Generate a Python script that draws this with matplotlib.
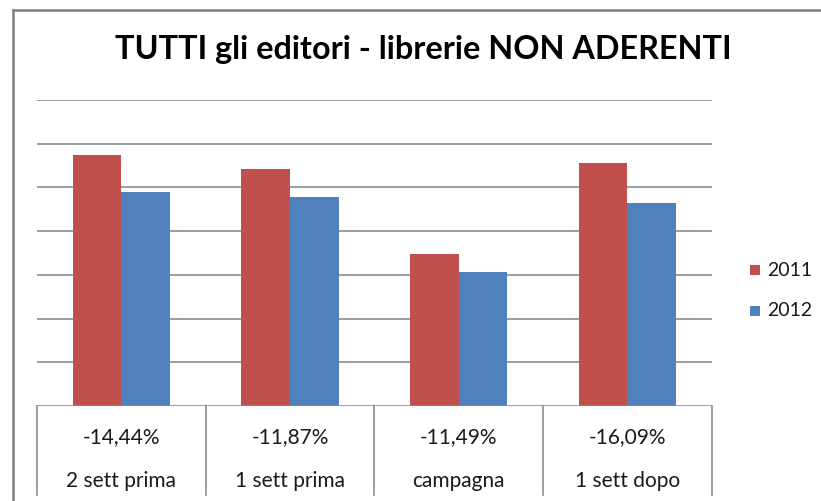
import matplotlib
matplotlib.use("Agg")
import matplotlib.pyplot as plt
from matplotlib.lines import Line2D
from matplotlib.patches import Rectangle
import numpy as np

plt.rcParams['font.family'] = ['Lato', 'DejaVu Sans']

title = "TUTTI gli editori - librerie NON ADERENTI"
categories = ["2 sett prima", "1 sett prima", "campagna", "1 sett dopo"]
changes = ["-14,44%", "-11,87%", "-11,49%", "-16,09%"]
series_names = ["2011", "2012"]
values_2011 = [5.74, 5.42, 3.47, 5.56]
values_2012 = [4.90, 4.78, 3.06, 4.65]

colors = ["#C0504D", "#4F81BD"]
grid_color = "#8C8C8C"

W, H = 821, 501
fig = plt.figure(figsize=(W / 100, H / 100), dpi=100)

def fx(px):
    return px / W

def fy(py):
    return 1 - py / H

left, right, top, bottom = 37, 711.5, 100, 406
ax = fig.add_axes([fx(left), fy(bottom), fx(right) - fx(left), fy(top) - fy(bottom)])
ax.set_xlim(-0.5, len(categories) - 0.5)
ax.set_ylim(0, 7)
unit = (bottom - top) / 7.0

x = np.arange(len(categories))
bw = 0.288
ax.bar(x - bw / 2, values_2011, bw, color=colors[0], zorder=3, label=series_names[0])
ax.bar(x + bw / 2, values_2012, bw, color=colors[1], zorder=3, label=series_names[1])

for g in range(1, 8):
    ax.axhline(g, color=grid_color, lw=1.2, zorder=1)
ax.axhline(0, color=grid_color, lw=1.2, zorder=4)

for s in ax.spines.values():
    s.set_visible(False)
ax.set_xticks([])
ax.set_yticks([])

# category table below axis
depth = (495 - bottom) / unit
for b in np.arange(-0.5, len(categories), 1.0):
    ax.plot([b, b], [0, -depth], color=grid_color, lw=1.2, clip_on=False)
y1 = -(437 - bottom) / unit
y2 = -(481 - bottom) / unit
for i in range(len(categories)):
    ax.text(x[i], y1, changes[i], ha='center', va='center', fontsize=15, color='#1a1a1a', clip_on=False)
    ax.text(x[i], y2, categories[i], ha='center', va='center', fontsize=15, color='#1a1a1a', clip_on=False)

# title
fig.text(fx(423.5), fy(50), title, ha='center', va='center', fontsize=23.3, fontweight='bold', color='black')

# legend
for i, (name, c) in enumerate(zip(series_names, colors)):
    cy = 270 + i * 41
    fig.add_artist(Rectangle((fx(750), fy(cy + 5)), 10 / W, 10 / H, facecolor=c, edgecolor='none', transform=fig.transFigure))
    fig.text(fx(767), fy(cy), name, ha='left', va='center', fontsize=14, color='#1a1a1a')

# chart frame (left and top borders)
fig.add_artist(Line2D([fx(13), fx(13)], [fy(10), 0], color='#7f7f7f', lw=1.8, transform=fig.transFigure))
fig.add_artist(Line2D([fx(13), 1], [fy(10), fy(10)], color='#7f7f7f', lw=1.8, transform=fig.transFigure))

fig.savefig("out.png", dpi=100)
